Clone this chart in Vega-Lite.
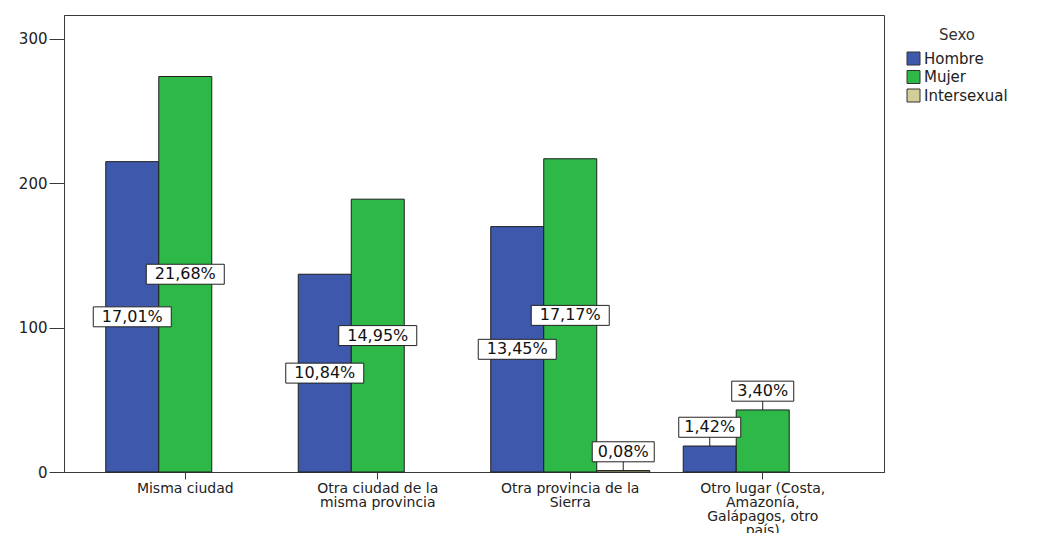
{
  "$schema": "https://vega.github.io/schema/vega-lite/v6.json",
  "width": 820,
  "height": 457,
  "autosize": "none",
  "padding": {"left": 64, "top": 15, "right": 157, "bottom": 61},
  "background": "white",
  "config": {
    "view": {"stroke": "#3a3a3a", "strokeWidth": 1},
    "font": "DejaVu Sans"
  },
  "data": {
    "values": [
      {"lugar": "Misma ciudad", "sexo": "Hombre", "n": 215, "pct": "17,01%"},
      {"lugar": "Misma ciudad", "sexo": "Mujer", "n": 274, "pct": "21,68%"},
      {"lugar": "Otra ciudad de la misma provincia", "sexo": "Hombre", "n": 137, "pct": "10,84%"},
      {"lugar": "Otra ciudad de la misma provincia", "sexo": "Mujer", "n": 189, "pct": "14,95%"},
      {"lugar": "Otra provincia de la Sierra", "sexo": "Hombre", "n": 170, "pct": "13,45%"},
      {"lugar": "Otra provincia de la Sierra", "sexo": "Mujer", "n": 217, "pct": "17,17%"},
      {"lugar": "Otra provincia de la Sierra", "sexo": "Intersexual", "n": 1, "pct": "0,08%"},
      {"lugar": "Otro lugar (Costa, Amazonía, Galápagos, otro país)", "sexo": "Hombre", "n": 18, "pct": "1,42%"},
      {"lugar": "Otro lugar (Costa, Amazonía, Galápagos, otro país)", "sexo": "Mujer", "n": 43, "pct": "3,40%"}
    ]
  },
  "transform": [
    {"calculate": "datum.n < 50 ? datum.n + 13 : datum.n / 2", "as": "labelY"}
  ],
  "encoding": {
    "x": {
      "field": "lugar",
      "type": "nominal",
      "sort": ["Misma ciudad", "Otra ciudad de la misma provincia", "Otra provincia de la Sierra", "Otro lugar (Costa, Amazonía, Galápagos, otro país)"],
      "scale": {"paddingInner": 0, "paddingOuter": 0.13},
      "axis": {
        "title": null,
        "labelAngle": 0,
        "labelFont": "DejaVu Sans",
        "labelFontSize": 14,
        "labelColor": "#222",
        "labelLimit": 300,
        "labelLineHeight": 14,
        "labelBaseline": "top",
        "labelPadding": 2,
        "tickSize": 7,
        "tickColor": "#3a3a3a",
        "domainColor": "#3a3a3a",
        "labelExpr": "datum.label == 'Otra ciudad de la misma provincia' ? ['Otra ciudad de la', 'misma provincia'] : datum.label == 'Otra provincia de la Sierra' ? ['Otra provincia de la', 'Sierra'] : datum.label == 'Otro lugar (Costa, Amazonía, Galápagos, otro país)' ? ['Otro lugar (Costa,', 'Amazonía,', 'Galápagos, otro', 'país)'] : datum.label"
      }
    },
    "xOffset": {
      "field": "sexo",
      "type": "nominal",
      "scale": {"domain": ["Hombre", "Mujer", "Intersexual"], "paddingInner": 0, "paddingOuter": 0.316}
    }
  },
  "layer": [
    {
      "mark": {"type": "bar", "stroke": "#1e1e1e", "strokeWidth": 1},
      "encoding": {
        "y": {
          "field": "n",
          "type": "quantitative",
          "title": null,
          "scale": {"domain": [0, 316.6], "nice": false, "zero": true},
          "axis": {
            "title": null,
            "values": [0, 100, 200, 300],
            "grid": false,
            "labelFont": "DejaVu Sans",
            "labelFontSize": 15,
            "labelColor": "#222",
            "labelPadding": 2,
            "tickSize": 15,
            "tickColor": "#3a3a3a",
            "domainColor": "#3a3a3a"
          }
        },
        "color": {
          "field": "sexo",
          "type": "nominal",
          "scale": {"domain": ["Hombre", "Mujer", "Intersexual"], "range": ["#3E58AC", "#2EB848", "#D3CE97"]},
          "legend": {
            "title": "Sexo",
            "orient": "none",
            "legendX": 842,
            "legendY": 13,
            "titleFont": "DejaVu Sans",
            "titleFontSize": 15,
            "titleFontWeight": "normal",
            "titleColor": "#333",
            "titleAnchor": "middle",
            "titlePadding": 8,
            "labelFont": "DejaVu Sans",
            "labelFontSize": 15,
            "labelColor": "#222",
            "labelOffset": 3,
            "symbolType": "square",
            "symbolSize": 169,
            "symbolStrokeColor": "#333",
            "symbolStrokeWidth": 1,
            "symbolOpacity": 1,
            "rowPadding": 1.5
          }
        }
      }
    },
    {
      "transform": [{"filter": "datum.n < 50"}],
      "mark": {"type": "rule", "color": "#222", "strokeWidth": 1},
      "encoding": {
        "y": {"field": "n", "type": "quantitative", "title": null},
        "y2": {"field": "labelY"}
      }
    },
    {
      "transform": [{"filter": "length(datum.pct) >= 6"}],
      "mark": {"type": "point", "shape": "M-1,-0.256L1,-0.256L1,0.256L-1,0.256Z", "size": 6084, "filled": true, "fill": "white", "stroke": "#222", "strokeWidth": 1, "opacity": 1, "fillOpacity": 1},
      "encoding": {
        "y": {"field": "labelY", "type": "quantitative", "title": null}
      }
    },
    {
      "transform": [{"filter": "length(datum.pct) < 6"}],
      "mark": {"type": "point", "shape": "M-1,-0.323L1,-0.323L1,0.323L-1,0.323Z", "size": 3844, "filled": true, "fill": "white", "stroke": "#222", "strokeWidth": 1, "opacity": 1, "fillOpacity": 1},
      "encoding": {
        "y": {"field": "labelY", "type": "quantitative", "title": null}
      }
    },
    {
      "mark": {"type": "text", "font": "DejaVu Sans", "fontSize": 16, "color": "#111", "baseline": "middle", "align": "center"},
      "encoding": {
        "y": {"field": "labelY", "type": "quantitative", "title": null},
        "text": {"field": "pct"}
      }
    }
  ]
}
